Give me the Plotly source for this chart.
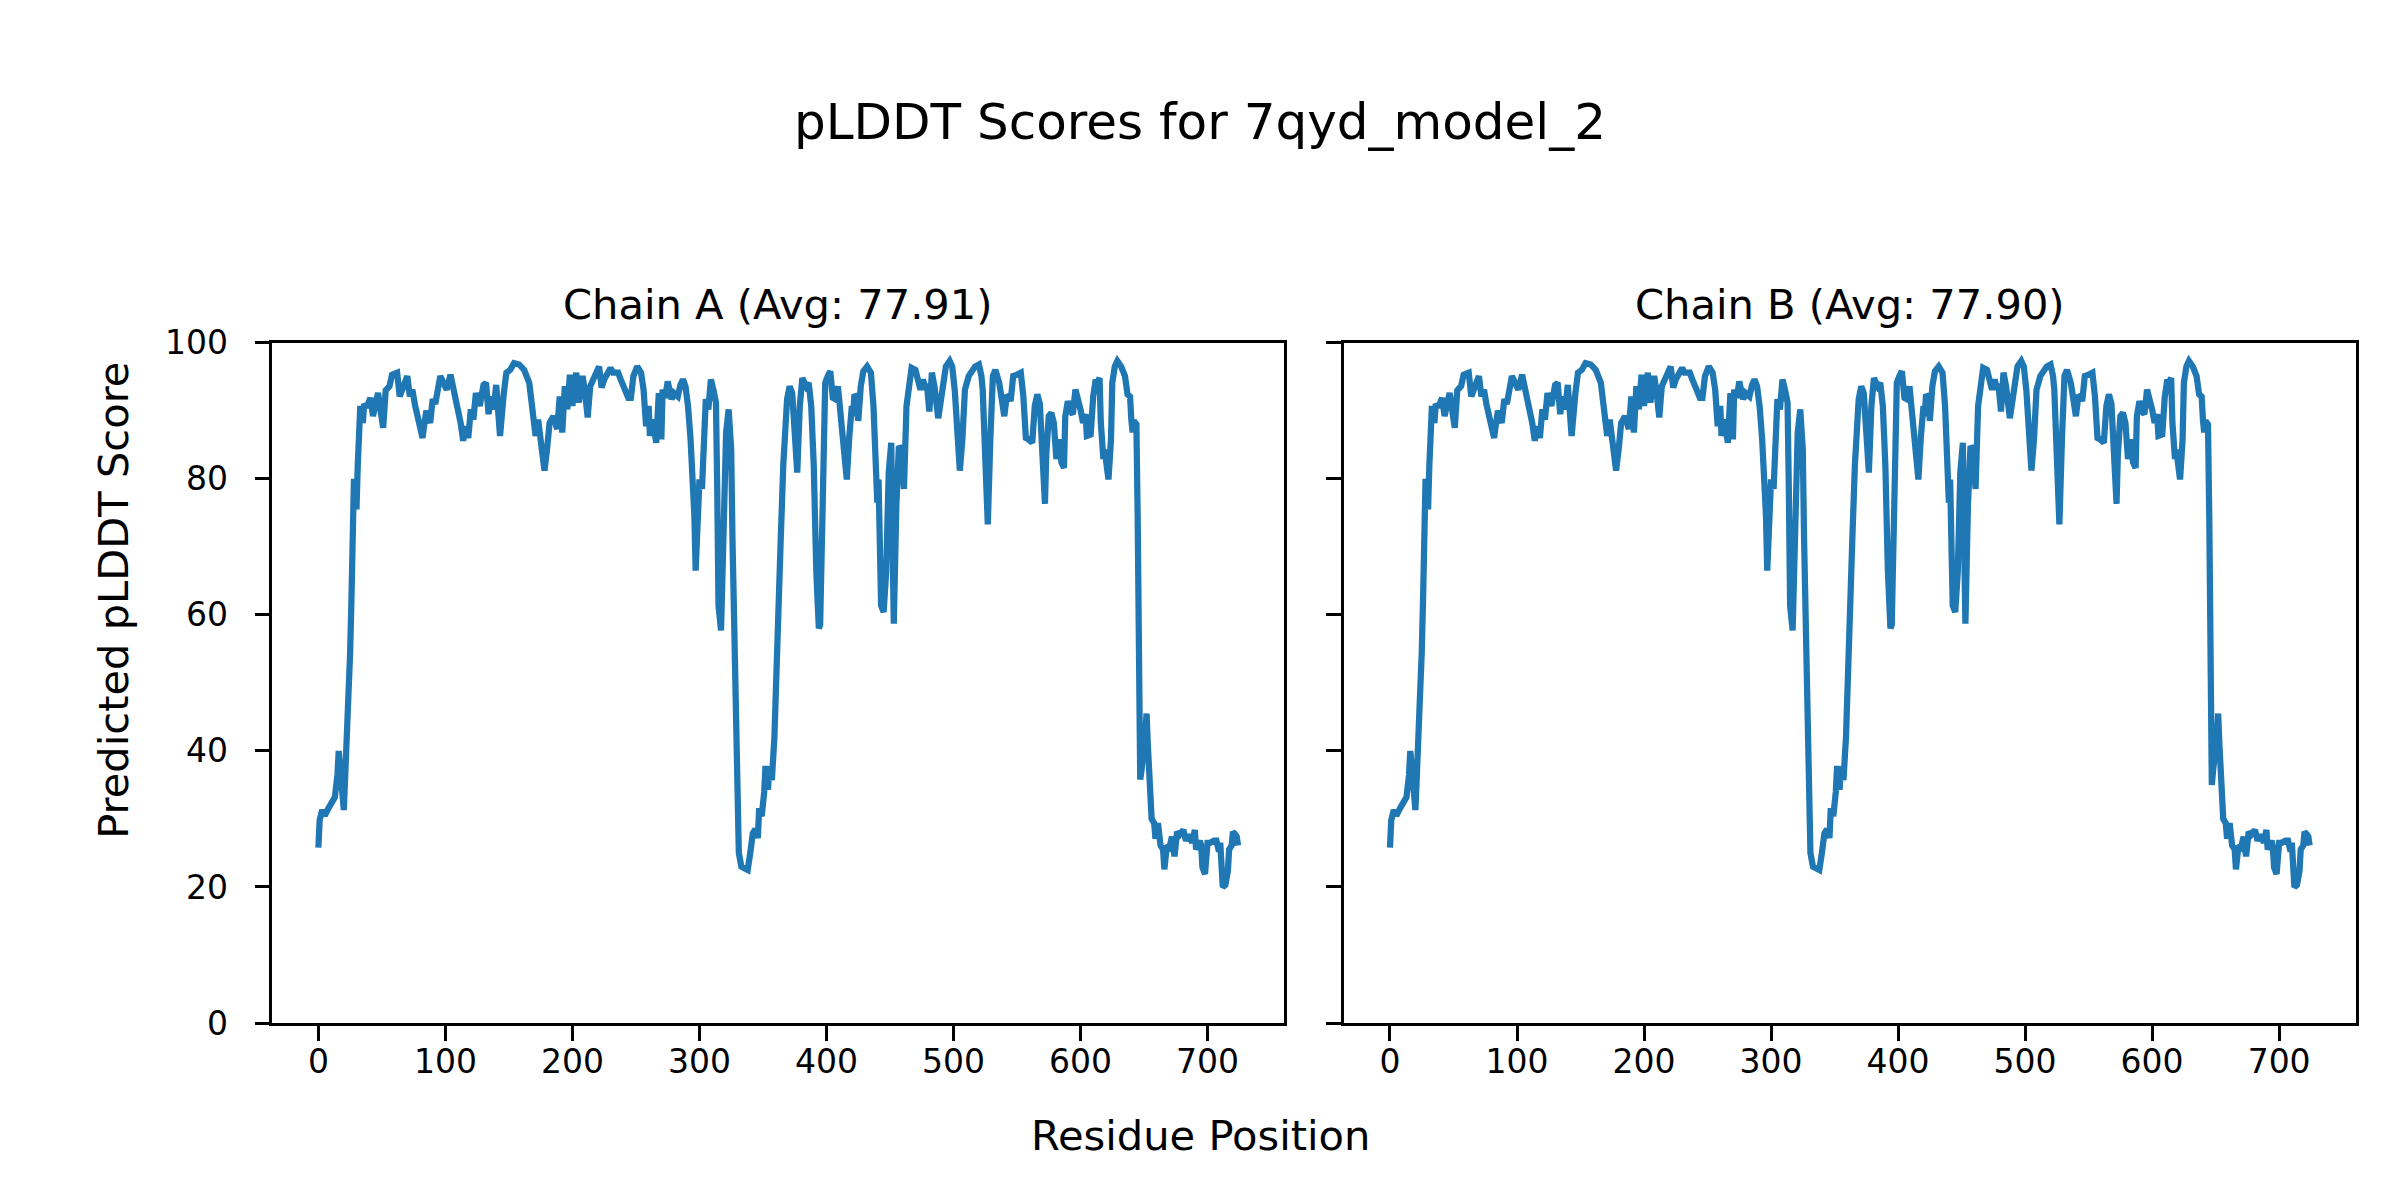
import plotly.graph_objects as go

TITLE = "pLDDT Scores for 7qyd_model_2"
SUBTITLES = ["Chain A (Avg: 77.91)", "Chain B (Avg: 77.90)"]
X_LABEL = "Residue Position"
Y_LABEL = "Predicted pLDDT Score"
X_TICKS = [0, 100, 200, 300, 400, 500, 600, 700]
Y_TICKS = [0, 20, 40, 60, 80, 100]

residues_a = [
    0, 1, 3, 5, 8, 10, 13, 15, 16, 18, 20, 21, 23, 25, 26, 27, 28, 29, 30, 31,
    32, 33, 34, 35, 36, 38, 41, 43, 45, 47, 49, 51, 53, 56, 58, 62, 64, 66, 68, 70,
    72, 74, 76, 78, 80, 82, 83, 85, 88, 90, 92, 94, 96, 98, 101, 104, 106, 109, 112, 114,
    116, 118, 120, 122, 124, 127, 130, 132, 134, 136, 138, 140, 141, 143, 146, 148, 151, 154, 158, 162,
    166, 168, 171, 173, 175, 178, 180, 182, 185, 188, 190, 192, 194, 196, 198, 200, 201, 203, 205, 208,
    210, 212, 214, 217, 219, 221, 223, 225, 228, 230, 232, 236, 238, 241, 244, 246, 248, 251, 254, 256,
    258, 260, 261, 263, 266, 268, 270, 271, 273, 275, 278, 280, 283, 285, 287, 289, 291, 293, 295, 296,
    297, 299, 300, 302, 304, 305, 307, 309, 311, 313, 314, 315, 317, 319, 321, 323, 325, 326, 328, 329,
    330, 331, 333, 336, 338, 340, 342, 344, 346, 347, 349, 351, 352, 353, 354, 355, 357, 359, 361, 363,
    364, 366, 367, 369, 371, 373, 375, 377, 379, 381, 384, 386, 388, 390, 392, 394, 395, 397, 398, 399,
    401, 403, 405, 407, 409, 410, 412, 414, 416, 418, 420, 421, 422, 424, 425, 427, 429, 432, 435, 437,
    439, 440, 441, 443, 445, 447, 449, 451, 452, 453, 455, 457, 459, 461, 463, 465, 467, 470, 472, 474,
    476, 478, 479, 481, 483, 485, 488, 490, 492, 494, 497, 499, 501, 502, 504, 505, 507, 509, 512, 515,
    517, 520, 522, 523, 525, 527, 529, 531, 533, 536, 538, 540, 542, 544, 545, 547, 550, 553, 555, 557,
    559, 562, 564, 566, 568, 570, 572, 573, 575, 577, 579, 581, 583, 585, 587, 588, 590, 593, 594, 596,
    598, 600, 602, 604, 605, 608, 610, 612, 613, 615, 616, 618, 619, 622, 624, 625, 627, 629, 632, 635,
    637, 639, 640, 641, 642, 644, 645, 646, 647, 648, 651, 652, 653, 655, 656, 658, 659, 661, 663, 665,
    666, 668, 670, 672, 674, 676, 678, 681, 683, 685, 688, 690, 691, 694, 695, 696, 698, 700, 702, 705,
    707, 709, 710, 712, 714, 716, 717, 719, 720, 722, 723, 724,
]
scores_a = [
    25.8, 29.8, 31.3, 30.5, 31.6, 32.3, 33.2, 36.5, 40.0, 35.8, 31.3, 35.8, 44.0, 54.5, 62.0, 75.0, 80.0, 78.0, 75.5, 82.0,
    88.0, 90.7, 89.5, 88.2, 91.0, 90.5, 91.9, 89.2, 91.0, 92.6, 90.0, 87.5, 93.0, 93.6, 95.3, 95.6, 92.1, 93.1, 94.0, 95.1,
    92.1, 93.1, 90.9, 89.0, 87.7, 86.0, 87.5, 90.0, 88.2, 91.7, 91.0, 92.6, 95.1, 94.3, 93.1, 95.3, 93.6, 91.2, 88.2, 85.6,
    87.7, 86.0, 90.2, 88.7, 92.6, 90.7, 93.8, 94.1, 89.5, 92.1, 90.2, 93.8, 90.7, 86.3, 92.6, 95.6, 96.0, 97.0, 96.8, 96.0,
    94.1, 91.2, 86.3, 88.7, 84.8, 81.2, 84.3, 88.2, 89.2, 87.3, 92.1, 86.8, 93.6, 90.2, 95.3, 90.7, 92.6, 95.6, 91.2, 95.1,
    92.6, 89.0, 93.6, 95.1, 95.6, 96.5, 93.4, 94.6, 95.6, 96.3, 95.6, 95.6, 94.6, 92.9, 91.9, 91.9, 95.1, 96.5, 95.6, 93.1,
    87.7, 90.7, 86.3, 88.7, 85.3, 92.6, 85.8, 93.1, 91.9, 94.3, 91.7, 92.6, 92.1, 93.8, 94.6, 93.6, 90.7, 85.8, 79.9, 74.6,
    66.5, 74.6, 79.9, 78.5, 85.8, 91.7, 90.2, 94.6, 93.1, 91.2, 78.5, 61.4, 57.7, 76.0, 86.8, 90.2, 84.3, 71.2, 55.0, 40.0,
    30.0, 25.0, 23.0, 22.6, 22.5, 25.0, 27.9, 28.5, 27.2, 31.6, 30.4, 34.0, 37.8, 35.0, 34.3, 37.7, 35.7, 42.0, 56.5, 65.0,
    71.2, 82.0, 85.8, 91.7, 93.6, 92.6, 86.8, 80.9, 90.7, 94.8, 93.6, 94.1, 90.7, 81.9, 66.3, 58.0, 58.5, 76.0, 90.0, 94.1,
    95.1, 95.8, 91.9, 91.7, 93.6, 91.7, 87.3, 81.9, 79.9, 86.3, 90.7, 89.2, 92.4, 91.9, 88.5, 93.6, 95.8, 96.5, 95.6, 90.7,
    79.9, 76.5, 79.9, 61.4, 60.4, 66.3, 80.9, 85.3, 71.2, 58.7, 76.0, 84.8, 84.3, 78.5, 90.7, 94.6, 96.3, 96.0, 94.6, 93.1,
    94.6, 93.1, 94.0, 89.9, 95.6, 93.6, 88.9, 91.7, 95.1, 96.5, 97.3, 96.5, 93.0, 90.2, 84.8, 81.2, 85.8, 93.1, 95.1, 95.8,
    96.5, 96.8, 95.1, 93.1, 83.4, 73.3, 85.8, 95.1, 96.0, 94.1, 91.7, 89.2, 92.3, 92.0, 91.4, 95.1, 95.3, 95.6, 92.1, 86.0,
    85.8, 85.3, 90.7, 92.4, 91.0, 80.9, 76.3, 83.4, 89.2, 89.7, 88.2, 82.9, 85.8, 82.4, 81.6, 89.2, 91.4, 89.7, 89.5, 93.1,
    92.0, 90.2, 88.2, 89.5, 86.3, 86.5, 92.1, 94.6, 94.1, 94.8, 88.2, 82.9, 84.3, 79.9, 85.8, 94.1, 96.5, 97.3, 96.5, 95.1,
    92.4, 92.1, 88.7, 86.8, 88.5, 88.0, 74.5, 55.0, 35.8, 37.1, 42.3, 45.5, 40.9, 34.5, 30.0, 29.4, 27.1, 29.4, 26.1, 25.5,
    22.6, 26.1, 25.8, 27.4, 24.5, 28.1, 27.7, 28.4, 26.8, 27.7, 26.5, 28.4, 25.5, 26.8, 26.1, 22.9, 21.9, 26.5, 26.5, 26.8,
    26.8, 25.2, 26.5, 20.0, 20.3, 22.3, 25.5, 26.1, 28.1, 27.7, 27.4, 26.1,
]

residues_b = [
    0, 1, 3, 5, 8, 10, 13, 15, 16, 18, 20, 21, 23, 25, 26, 27, 28, 29, 30, 31,
    32, 33, 34, 35, 36, 38, 41, 43, 45, 47, 49, 51, 53, 56, 58, 62, 64, 66, 68, 70,
    72, 74, 76, 78, 80, 82, 83, 85, 88, 90, 92, 94, 96, 98, 101, 104, 106, 109, 112, 114,
    116, 118, 120, 122, 124, 127, 130, 132, 134, 136, 138, 140, 141, 143, 146, 148, 151, 154, 158, 162,
    166, 168, 171, 173, 175, 178, 180, 182, 185, 188, 190, 192, 194, 196, 198, 200, 201, 203, 205, 208,
    210, 212, 214, 217, 219, 221, 223, 225, 228, 230, 232, 236, 238, 241, 244, 246, 248, 251, 254, 256,
    258, 260, 261, 263, 266, 268, 270, 271, 273, 275, 278, 280, 283, 285, 287, 289, 291, 293, 295, 296,
    297, 299, 300, 302, 304, 305, 307, 309, 311, 313, 314, 315, 317, 319, 321, 323, 325, 326, 328, 329,
    330, 331, 333, 336, 338, 340, 342, 344, 346, 347, 349, 351, 352, 353, 354, 355, 357, 359, 361, 363,
    364, 366, 367, 369, 371, 373, 375, 377, 379, 381, 384, 386, 388, 390, 392, 394, 395, 397, 398, 399,
    401, 403, 405, 407, 409, 410, 412, 414, 416, 418, 420, 421, 422, 424, 425, 427, 429, 432, 435, 437,
    439, 440, 441, 443, 445, 447, 449, 451, 452, 453, 455, 457, 459, 461, 463, 465, 467, 470, 472, 474,
    476, 478, 479, 481, 483, 485, 488, 490, 492, 494, 497, 499, 501, 502, 504, 505, 507, 509, 512, 515,
    517, 520, 522, 523, 525, 527, 529, 531, 533, 536, 538, 540, 542, 544, 545, 547, 550, 553, 555, 557,
    559, 562, 564, 566, 568, 570, 572, 573, 575, 577, 579, 581, 583, 585, 587, 588, 590, 593, 594, 596,
    598, 600, 602, 604, 605, 608, 610, 612, 613, 615, 616, 618, 619, 622, 624, 625, 627, 629, 632, 635,
    637, 639, 640, 641, 642, 644, 645, 646, 647, 648, 651, 652, 653, 655, 656, 658, 659, 661, 663, 665,
    666, 668, 670, 672, 674, 676, 678, 681, 683, 685, 688, 690, 691, 694, 695, 696, 698, 700, 702, 705,
    707, 709, 710, 712, 714, 716, 717, 719, 720, 722, 723, 724,
]
scores_b = [
    25.8, 29.8, 31.3, 30.5, 31.6, 32.3, 33.2, 36.5, 40.0, 35.8, 31.3, 35.8, 44.0, 54.5, 62.0, 75.0, 80.0, 78.0, 75.5, 82.0,
    88.0, 90.7, 89.5, 88.2, 91.0, 90.5, 91.9, 89.2, 91.0, 92.6, 90.0, 87.5, 93.0, 93.6, 95.3, 95.6, 92.1, 93.1, 94.0, 95.1,
    92.1, 93.1, 90.9, 89.0, 87.7, 86.0, 87.5, 90.0, 88.2, 91.7, 91.0, 92.6, 95.1, 94.3, 93.1, 95.3, 93.6, 91.2, 88.2, 85.6,
    87.7, 86.0, 90.2, 88.7, 92.6, 90.7, 93.8, 94.1, 89.5, 92.1, 90.2, 93.8, 90.7, 86.3, 92.6, 95.6, 96.0, 97.0, 96.8, 96.0,
    94.1, 91.2, 86.3, 88.7, 84.8, 81.2, 84.3, 88.2, 89.2, 87.3, 92.1, 86.8, 93.6, 90.2, 95.3, 90.7, 92.6, 95.6, 91.2, 95.1,
    92.6, 89.0, 93.6, 95.1, 95.6, 96.5, 93.4, 94.6, 95.6, 96.3, 95.6, 95.6, 94.6, 92.9, 91.9, 91.9, 95.1, 96.5, 95.6, 93.1,
    87.7, 90.7, 86.3, 88.7, 85.3, 92.6, 85.8, 93.1, 91.9, 94.3, 91.7, 92.6, 92.1, 93.8, 94.6, 93.6, 90.7, 85.8, 79.9, 74.6,
    66.5, 74.6, 79.9, 78.5, 85.8, 91.7, 90.2, 94.6, 93.1, 91.2, 78.5, 61.4, 57.7, 76.0, 86.8, 90.2, 84.3, 71.2, 55.0, 40.0,
    30.0, 25.0, 23.0, 22.6, 22.5, 25.0, 27.9, 28.5, 27.2, 31.6, 30.4, 34.0, 37.8, 35.0, 34.3, 37.7, 35.7, 42.0, 56.5, 65.0,
    71.2, 82.0, 85.8, 91.7, 93.6, 92.6, 86.8, 80.9, 90.7, 94.8, 93.6, 94.1, 90.7, 81.9, 66.3, 58.0, 58.5, 76.0, 90.0, 94.1,
    95.1, 95.8, 91.9, 91.7, 93.6, 91.7, 87.3, 81.9, 79.9, 86.3, 90.7, 89.2, 92.4, 91.9, 88.5, 93.6, 95.8, 96.5, 95.6, 90.7,
    79.9, 76.5, 79.9, 61.4, 60.4, 66.3, 80.9, 85.3, 71.2, 58.7, 76.0, 84.8, 84.3, 78.5, 90.7, 94.6, 96.3, 96.0, 94.6, 93.1,
    94.6, 93.1, 94.0, 89.9, 95.6, 93.6, 88.9, 91.7, 95.1, 96.5, 97.3, 96.5, 93.0, 90.2, 84.8, 81.2, 85.8, 93.1, 95.1, 95.8,
    96.5, 96.8, 95.1, 93.1, 83.4, 73.3, 85.8, 95.1, 96.0, 94.1, 91.7, 89.2, 92.3, 92.0, 91.4, 95.1, 95.3, 95.6, 92.1, 86.0,
    85.8, 85.3, 90.7, 92.4, 91.0, 80.9, 76.3, 83.4, 89.2, 89.7, 88.2, 82.9, 85.8, 82.4, 81.6, 89.2, 91.4, 89.7, 89.5, 93.1,
    92.0, 90.2, 88.2, 89.5, 86.3, 86.5, 92.1, 94.6, 94.1, 94.8, 88.2, 82.9, 84.3, 79.9, 85.8, 94.1, 96.5, 97.3, 96.5, 95.1,
    92.4, 92.1, 88.7, 86.8, 88.5, 88.0, 74.5, 55.0, 35.0, 37.1, 42.3, 45.5, 40.9, 34.5, 30.0, 29.4, 27.1, 29.4, 26.1, 25.5,
    22.6, 26.1, 25.8, 27.4, 24.5, 28.1, 27.7, 28.4, 26.8, 27.7, 26.5, 28.4, 25.5, 26.8, 26.1, 22.9, 21.9, 26.5, 26.5, 26.8,
    26.8, 25.2, 26.5, 20.0, 20.3, 22.3, 25.5, 26.1, 28.1, 27.7, 27.4, 26.1,
]

W, H = 2400, 1200
FONT = "DejaVu Sans"
LINE_COLOR = "#1f77b4"

# The page places the drawing with an offset; map wanted screen pixels to paper fractions.
OFF_X, OFF_Y, PAPER_H = 8.0, 24.5, 1165.0


def px(xs):
    return (xs - OFF_X) / W


def py(ys):
    return 1 - (ys - OFF_Y) / PAPER_H


# axes boxes (screen px): left 272.4..1284, right 1344..2355.6, top 341.3, bottom 1024
dom_x = [[px(272.4), px(1284.0)], [px(1344.0), px(2355.6)]]
dom_y = [py(1024.0), py(341.3)]

fig = go.Figure()
for i, (xs, ys) in enumerate([(residues_a, scores_a), (residues_b, scores_b)]):
    suffix = "" if i == 0 else "2"
    fig.add_trace(go.Scatter(
        x=xs, y=ys, mode="lines",
        line=dict(color=LINE_COLOR, width=6.25),
        xaxis="x" + suffix, yaxis="y" + suffix, showlegend=False,
        hoverinfo="skip",
    ))

axis_common = dict(
    showline=True, mirror=True, linecolor="black", linewidth=3.3,
    ticks="outside", ticklen=14.6, tickwidth=3.3, tickcolor="black",
    showgrid=False, zeroline=False,
    tickfont=dict(family=FONT, size=33, color="black"),
)

xr = [-36.2, 760.2]
fig.update_layout(
    width=W, height=H,
    margin=dict(l=0, r=0, t=0, b=0),
    paper_bgcolor="white", plot_bgcolor="white",
    font=dict(family=FONT, color="black"),
    xaxis=dict(domain=dom_x[0], range=xr, tickvals=X_TICKS, anchor="y", ticklabelstandoff=-7, **axis_common),
    yaxis=dict(domain=dom_y, range=[0, 100], tickvals=Y_TICKS, anchor="x", ticklabelstandoff=20, **axis_common),
    xaxis2=dict(domain=dom_x[1], range=xr, tickvals=X_TICKS, anchor="y2", ticklabelstandoff=-7, **axis_common),
    yaxis2=dict(domain=dom_y, range=[0, 100], tickvals=Y_TICKS, anchor="x2", showticklabels=False, **axis_common),
)

annotations = [
    dict(text=TITLE, x=px(1200), y=py(119.4), xref="paper", yref="paper",
         xanchor="center", yanchor="middle", showarrow=False,
         font=dict(family=FONT, size=50, color="black")),
    dict(text=X_LABEL, x=px(1200), y=py(1137.2), xref="paper", yref="paper",
         xanchor="center", yanchor="middle", showarrow=False,
         font=dict(family=FONT, size=41.6, color="black")),
    dict(text=Y_LABEL, x=px(113.3), y=py(600), xref="paper", yref="paper",
         xanchor="center", yanchor="middle", showarrow=False, textangle=-90,
         font=dict(family=FONT, size=41.6, color="black")),
]
for i, sub in enumerate(SUBTITLES):
    annotations.append(dict(
        text=sub, x=(dom_x[i][0] + dom_x[i][1]) / 2, y=py(303),
        xref="paper", yref="paper", xanchor="center", yanchor="middle",
        showarrow=False, font=dict(family=FONT, size=41.6, color="black"),
    ))
fig.update_layout(annotations=annotations)

fig.write_html("out.html")
